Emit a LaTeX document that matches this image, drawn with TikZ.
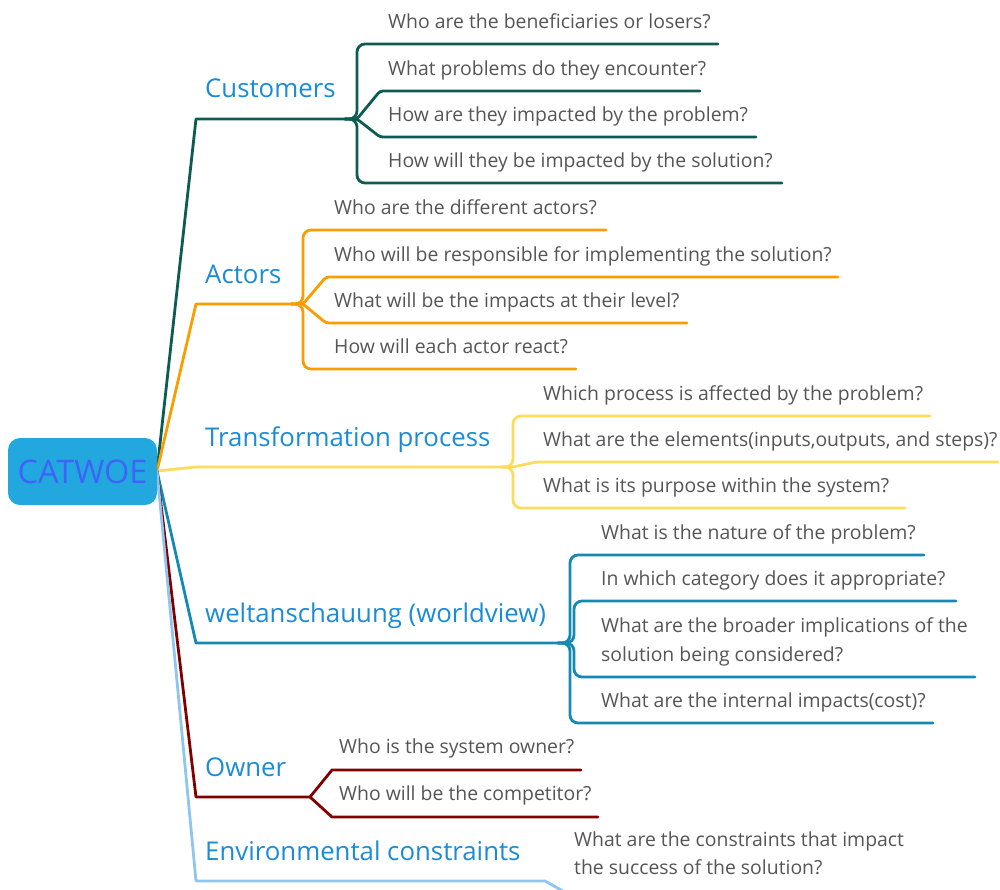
\documentclass[tikz,border=0pt]{standalone}
\usepackage{fontspec}
\setmainfont{Open Sans}
\definecolor{cteal}{RGB}{14,91,82}
\definecolor{corange}{RGB}{251,157,0}
\definecolor{cyellow}{RGB}{253,220,92}
\definecolor{cblue}{RGB}{19,138,179}
\definecolor{cred}{RGB}{128,0,0}
\definecolor{clight}{RGB}{143,197,238}
\definecolor{labblue}{RGB}{26,139,214}
\definecolor{qgray}{RGB}{85,85,85}
\definecolor{rootfill}{RGB}{35,167,223}
\definecolor{roottext}{RGB}{62,100,247}
\tikzset{
  br/.style={line width=2.8pt, line cap=round, line join=round},
  lab/.style={anchor=base west, inner sep=0pt, font=\fontsize{25.8}{30}\selectfont, text=labblue},
  q/.style={anchor=base west, inner sep=0pt, font=\fontsize{19.4}{28}\selectfont, text=qgray, align=left},
  rootbox/.style={rounded corners=12pt, fill=rootfill, draw=none, minimum width=149pt, minimum height=67pt, inner sep=0pt, text=roottext, font=\fontsize{32.5}{36}\selectfont},
}
\begin{document}
\begin{tikzpicture}[x=1pt,y=-1pt]
\useasboundingbox (0,0) rectangle (1000,889);
\begin{scope}
\clip (0,0) rectangle (1000,889);
% root
\coordinate (R) at (157,471);
% ---------- Customers
\coordinate (cA) at (196,119);
\coordinate (cJ) at (345,119);
\coordinate (cV) at (357,119);
\draw[br,cteal] (R) -- (cA) -- (cJ);
\draw[br,cteal,rounded corners=8pt] (cJ) -- (cV) -- (357,44) -- (718,44);
\draw[br,cteal,rounded corners=3pt] (cJ) -- (cV) -- (380,91) -- (700,91);
\draw[br,cteal,rounded corners=3pt] (cJ) -- (cV) -- (380,137) -- (756,137);
\draw[br,cteal,rounded corners=8pt] (cJ) -- (cV) -- (357,183) -- (782,183);
\node[lab] (cust) at (205,97.5) {Customers};
\node[q] (c1) at (388,28) {Who are the beneficiaries or losers?};
\node[q] (c2) at (388,75) {What problems do they encounter?};
\node[q] (c3) at (388,121) {How are they impacted by the problem?};
\node[q] (c4) at (388,167) {How will they be impacted by the solution?};
% ---------- Actors
\coordinate (aA) at (196,304);
\coordinate (aJ) at (291,304);
\coordinate (aV) at (303,304);
\draw[br,corange] (R) -- (aA) -- (aJ);
\draw[br,corange,rounded corners=8pt] (aJ) -- (aV) -- (303,230) -- (606,230);
\draw[br,corange,rounded corners=3pt] (aJ) -- (aV) -- (326,277) -- (838,277);
\draw[br,corange,rounded corners=3pt] (aJ) -- (aV) -- (326,323) -- (687,323);
\draw[br,corange,rounded corners=8pt] (aJ) -- (aV) -- (303,369) -- (576,369);
\node[lab] (act) at (205,283) {Actors};
\node[q] (a1) at (334,214) {Who are the different actors?};
\node[q] (a2) at (334,261) {Who will be responsible for implementing the solution?};
\node[q] (a3) at (334,307) {What will be the impacts at their level?};
\node[q] (a4) at (334,353) {How will each actor react?};
% ---------- Transformation process
\coordinate (tA) at (196,467);
\coordinate (tJ) at (501,467);
\coordinate (tV) at (513,467);
\draw[br,cyellow] (R) -- (tA) -- (tJ);
\draw[br,cyellow,rounded corners=8pt] (tJ) -- (tV) -- (513,416) -- (930,416);
\draw[br,cyellow,rounded corners=3pt] (tJ) -- (tV) -- (536,462) -- (998,462);
\draw[br,cyellow,rounded corners=8pt] (tJ) -- (tV) -- (513,508) -- (905,508);
\node[lab] (trans) at (205,446) {Transformation process};
\node[q] (t1) at (543,400) {Which process is affected by the problem?};
\node[q] (t2) at (543,446) {What are the elements(inputs,outputs, and steps)?};
\node[q] (t3) at (543,492) {What is its purpose within the system?};
% ---------- weltanschauung
\coordinate (wA) at (196,643);
\coordinate (wJ) at (558,643);
\coordinate (wV) at (570,643);
\draw[br,cblue] (R) -- (wA) -- (wJ);
\draw[br,cblue,rounded corners=8pt] (wJ) -- (wV) -- (570,555) -- (924,555);
\draw[br,cblue,rounded corners=8pt] (wJ) -- (574,643) -- (574,601) -- (956,601);
\draw[br,cblue,rounded corners=8pt] (wJ) -- (574,643) -- (574,677) -- (975,677);
\draw[br,cblue,rounded corners=8pt] (wJ) -- (wV) -- (570,723) -- (933,723);
\node[lab] (welt) at (205,622) {weltanschauung (worldview)};
\node[q] (w1) at (601,539) {What is the nature of the problem?};
\node[q] (w2) at (601,585) {In which category does it appropriate?};
\node[q] (w3) at (601,632) {What are the broader implications of the};
\node[q] (w3b) at (601,661) {solution being considered?};
\node[q] (w4) at (601,707) {What are the internal impacts(cost)?};
% ---------- Owner
\coordinate (oA) at (196,797);
\coordinate (oJ) at (310,797);
\draw[br,cred] (R) -- (oA) -- (oJ);
\draw[br,cred] (oJ) -- (332,770) -- (581,770);
\draw[br,cred] (oJ) -- (332,817) -- (598,817);
\node[lab] (own) at (205,776) {Owner};
\node[q] (o1) at (339,753) {Who is the system owner?};
\node[q] (o2) at (339,800) {Who will be the competitor?};
% ---------- Environmental constraints
\coordinate (eA) at (196,881);
\coordinate (eJ) at (545,881);
\coordinate (eE) at (570,895);
\draw[br,clight] (R) -- (eA) -- (eJ) -- (eE);
\node[lab] (env) at (205,860) {Environmental constraints};
\node[q] (e1) at (574,846) {What are the constraints that impact};
\node[q] (e1b) at (574,874) {the success of the solution?};
% root box on top
\node[rootbox] (root) at (82.5,471.5) {CATWOE};
\end{scope}
\end{tikzpicture}
\end{document}
